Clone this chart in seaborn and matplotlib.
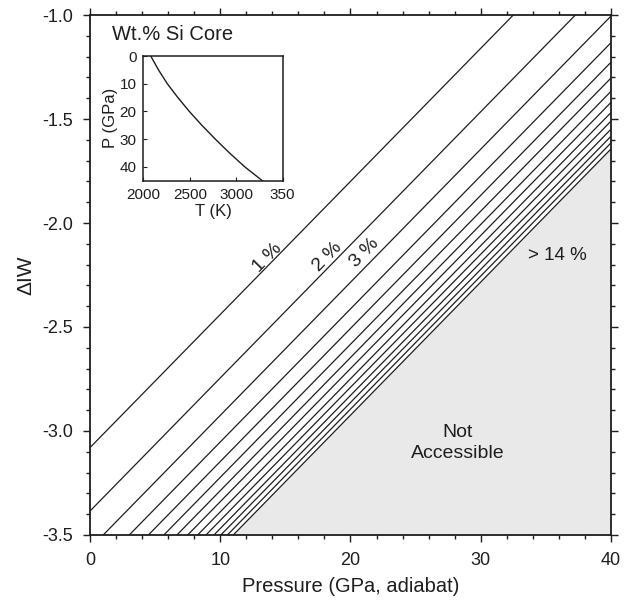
import numpy as np
import pandas as pd
import matplotlib
matplotlib.use("Agg")
import matplotlib.pyplot as plt
from matplotlib.ticker import MultipleLocator, FixedLocator
import seaborn as sns

# Iso-composition lines: wt.% Si in the core, given by their dIW at 0 and 40 GPa
wt_si = [1, 2, 3, 4, 5, 6, 7, 8, 9, 10, 11, 12, 13, 14]
pressure_ends = [0.0, 40.0]
diw_at_0 = [-3.08, -3.385, -3.565, -3.693, -3.787, -3.863, -3.927,
            -3.98, -4.029, -4.07, -4.109, -4.143, -4.175, -4.204]
diw_at_40 = [-0.52, -0.825, -1.005, -1.133, -1.227, -1.303, -1.367,
             -1.42, -1.469, -1.51, -1.549, -1.583, -1.615, -1.644]

# Adiabat used for the pressure axis (inset)
adiabat_p = [0, 5, 10, 15, 20, 25, 30, 35, 40, 45.5]
adiabat_t = [2080, 2163, 2258, 2372, 2495, 2630, 2775, 2928, 3092, 3300]

inset_xticks = [2000, 2500, 3000, 3500]
inset_xticklabels = ["2000", "2500", "3000", "350"]
inset_yticks = [0, 10, 20, 30, 40]

rows = []
for w, a, b in zip(wt_si, diw_at_0, diw_at_40):
    rows.append({"P": pressure_ends[0], "dIW": a, "wt": w})
    rows.append({"P": pressure_ends[1], "dIW": b, "wt": w})
lines = pd.DataFrame(rows)

sns.set_style("ticks")
plt.rcParams["font.family"] = ["Liberation Sans", "DejaVu Sans"]
plt.rcParams["axes.unicode_minus"] = False

fig = plt.figure(figsize=(6.35, 6.03), dpi=100)
ax = fig.add_axes([0.1417, 0.1128, 0.8205, 0.8623])

ink = "#1e1e1e"
ax.set_xlim(0, 40)
ax.set_ylim(-3.5, -1.0)

# Region beyond the highest Si content
last = lines[lines["wt"] == wt_si[-1]]
ax.fill_between(last["P"], last["dIW"], -3.5, color="#e9e9e9", lw=0, zorder=0)

sns.lineplot(data=lines, x="P", y="dIW", units="wt", estimator=None,
             color=ink, lw=0.9, legend=False, ax=ax, zorder=2)

ax.set_xlabel("Pressure (GPa, adiabat)", fontsize=14.5, labelpad=6, color=ink)
ax.set_ylabel("\u0394IW", fontsize=15, labelpad=5, color=ink)

ax.xaxis.set_major_locator(MultipleLocator(10))
ax.xaxis.set_minor_locator(MultipleLocator(2))
ax.yaxis.set_major_locator(MultipleLocator(0.5))
ax.yaxis.set_minor_locator(MultipleLocator(0.1))
ax.yaxis.set_major_formatter(matplotlib.ticker.FormatStrFormatter("%.1f"))
ax.tick_params(which="both", direction="out", top=True, right=True,
               labelsize=13, colors=ink, width=1.0)
ax.tick_params(which="major", length=5, pad=7)
ax.tick_params(which="minor", length=3)
for s in ax.spines.values():
    s.set_linewidth(1.3)
    s.set_color(ink)

# Labels along the first lines
fig.canvas.draw()
slope = (diw_at_40[0] - diw_at_0[0]) / (pressure_ends[1] - pressure_ends[0])
angle = np.degrees(np.arctan(slope))
screen_angle = ax.transData.transform_angles(np.array([angle]),
                                             np.array([[20.0, -2.0]]))[0]
for txt, px, py in [("1 %", 13.66, -2.168), ("2 %", 18.27, -2.163),
                    ("3 %", 21.1, -2.144)]:
    ax.text(px, py, txt, rotation=screen_angle, rotation_mode="anchor",
            ha="center", va="center", fontsize=14, color=ink)

ax.text(35.9, -2.154, "> 14 %", ha="center", va="center", fontsize=13.5, color=ink)
ax.text(28.2, -3.058, "Not\nAccessible", ha="center", va="center",
        fontsize=14, color=ink, linespacing=1.3)
ax.text(1.67, -1.096, "Wt.% Si Core", ha="left", va="center",
        fontsize=14.5, color=ink)

# Inset: adiabat
ins = fig.add_axes([0.2257, 0.7003, 0.2195, 0.2068])
sns.lineplot(x=adiabat_t, y=adiabat_p, sort=False, color=ink, lw=1.0, ax=ins)
ins.set_xlim(2000, 3500)
ins.set_ylim(45, 0)
ins.xaxis.set_major_locator(FixedLocator(inset_xticks))
ins.set_xticklabels(inset_xticklabels)
ins.yaxis.set_major_locator(FixedLocator(inset_yticks))
ins.tick_params(direction="in", length=3, labelsize=11, colors=ink, pad=5)
ins.set_xlabel("T (K)", fontsize=12, labelpad=2, color=ink)
ins.set_ylabel("P (GPa)", fontsize=12, labelpad=1, color=ink)
for s in ins.spines.values():
    s.set_linewidth(1.1)
    s.set_color(ink)

fig.savefig("out.png", dpi=100)
